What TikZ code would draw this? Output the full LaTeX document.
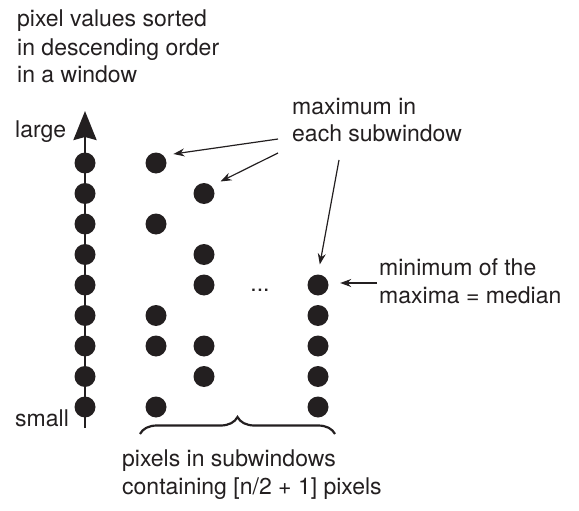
\documentclass[tikz,border=0pt]{standalone}
\usepackage{fontspec}
\setmainfont{TeX Gyre Heros}
\usepackage{tikz}
\usetikzlibrary{arrows.meta, decorations.pathreplacing}
\definecolor{inkBlack}{HTML}{231F20}

\begin{document}
\begin{tikzpicture} [
    x=1pt, y=-1pt,
    pixel/.style={circle,fill=inkBlack,inner sep=0pt,minimum size=21pt},
    textLabel/.style={anchor=base west,inner sep=0pt,align=left,text=inkBlack,font=\fontsize{23}{28}\selectfont},
    sortAxis/.style={line width=2.6pt, draw=inkBlack, -{Stealth[length=29pt,width=23pt,inset=3pt]}},
    pointer/.style={line width=1.2pt, draw=inkBlack, -{Stealth[length=11pt,width=8pt]}, shorten >=10pt},
    curly/.style={line width=2.2pt, draw=inkBlack, decorate, decoration={brace,amplitude=17pt}}
]
    \useasboundingbox (0, 0) rectangle (579, 511);

    % sorted pixels
    \coordinate (axisFoot) at (85, 428);
    \coordinate (axisTip) at (85, 111);
    \draw [sortAxis] (axisFoot) -- (axisTip);

    \node[pixel] (sorted1) at (85, 163) {};
    \node[pixel] (sorted2) at (85, 193.5) {};
    \node[pixel] (sorted3) at (85, 224) {};
    \node[pixel] (sorted4) at (85, 254.5) {};
    \node[pixel] (sorted5) at (85, 285) {};
    \node[pixel] (sorted6) at (85, 315.5) {};
    \node[pixel] (sorted7) at (85, 346) {};
    \node[pixel] (sorted8) at (85, 376.5) {};
    \node[pixel] (sorted9) at (85, 407) {};

    \node[textLabel] (largeText) at (15, 137) {large};
    \node[textLabel] (smallText) at (15, 426) {small};
    % multi-line labels sit on their last baseline
    \node[textLabel] (titleText) at (17, 83) {pixel values sorted\\in descending order\\in a window};

    % subwindow 1
    \node[pixel] (subA1) at (156, 163) {};
    \node[pixel] (subA2) at (156, 224) {};
    \node[pixel] (subA3) at (156, 315.5) {};
    \node[pixel] (subA4) at (156, 346) {};
    \node[pixel] (subA5) at (156, 407) {};

    % subwindow 2
    \node[pixel] (subB1) at (204, 193.5) {};
    \node[pixel] (subB2) at (204, 254.5) {};
    \node[pixel] (subB3) at (204, 285) {};
    \node[pixel] (subB4) at (204, 346) {};
    \node[pixel] (subB5) at (204, 376.5) {};

    \node[textLabel, anchor=center] (gapDots) at (260, 290) {...};

    % last subwindow
    \node[pixel] (subC1) at (318, 285) {};
    \node[pixel] (subC2) at (318, 315.5) {};
    \node[pixel] (subC3) at (318, 346) {};
    \node[pixel] (subC4) at (318, 376.5) {};
    \node[pixel] (subC5) at (318, 407) {};

    % maxima
    \node[textLabel] (maxText) at (292, 142) {maximum in\\each subwindow};
    \coordinate (maxFromA) at (278, 139);
    \coordinate (maxFromB) at (278, 153);
    \coordinate (maxFromC) at (339, 160);
    \draw [pointer] (maxFromA) -- (subA1.north east);
    \draw [pointer] (maxFromB) -- (subB1.north east);
    \draw [pointer] (maxFromC) -- (subC1.north);

    % median
    \node[textLabel] (minText) at (379, 303) {minimum of the\\maxima = median};
    \coordinate (minFrom) at (377, 283);
    \draw [pointer, shorten >=11.5pt] (minFrom) -- (minFrom -| subC1.east);

    % brace
    \coordinate (braceLeft) at (140, 434);
    \coordinate (braceRight) at (335, 434);
    \draw [curly] (braceLeft) -- (braceRight);
    \node[textLabel] (braceText) at (122, 494) {pixels in subwindows\\containing [n/2 + 1] pixels};

\end{tikzpicture}
\end{document}
